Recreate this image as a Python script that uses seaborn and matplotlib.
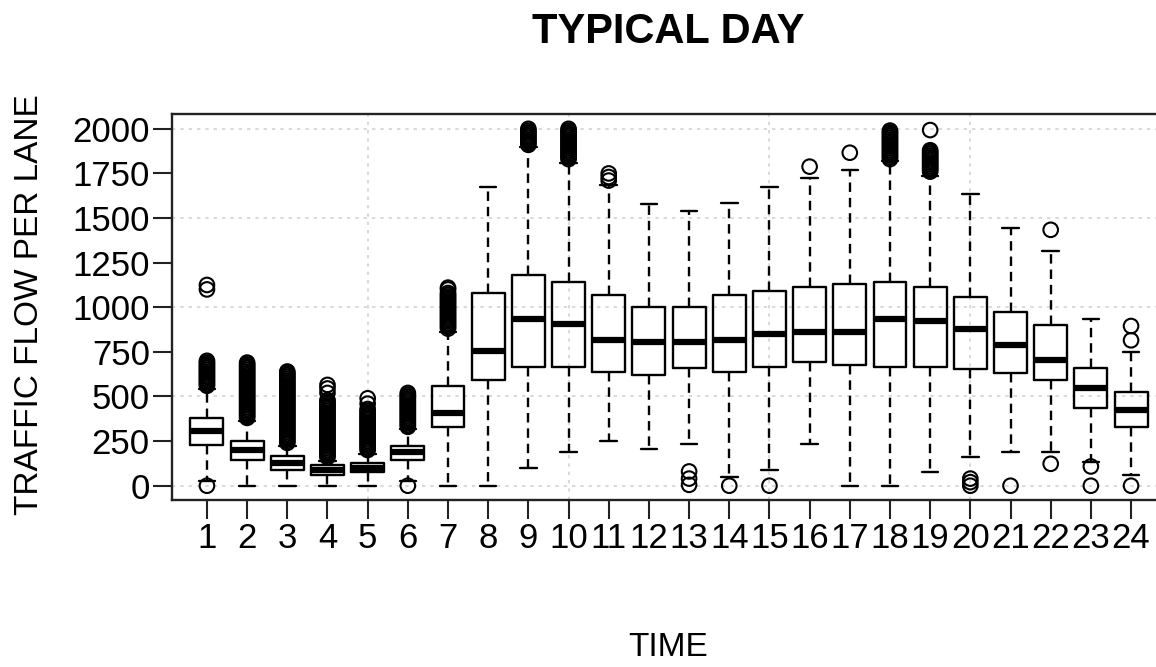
import numpy as np
import pandas as pd
import seaborn as sns
import matplotlib.pyplot as plt

# hourly traffic flow summary
hours = list(range(1, 25))
whisk_lo = [25, 0, 0, 0, 0, 25, 0, 0, 100, 187, 248, 207, 233, 47, 90, 233, 0, 0, 77, 159, 187, 187, 135, 62]
q1 = [229, 146, 86, 62, 75, 146, 330, 593, 668, 668, 640, 618, 657, 640, 668, 691, 678, 668, 668, 653, 631, 594, 435, 327]
median = [304, 200, 128, 88, 100, 190, 410, 755, 935, 907, 818, 803, 803, 818, 849, 860, 860, 935, 924, 877, 790, 706, 547, 426]
q3 = [379, 248, 164, 118, 128, 220, 560, 1080, 1182, 1142, 1070, 1004, 1004, 1070, 1092, 1116, 1129, 1140, 1116, 1057, 973, 898, 659, 523]
whisk_hi = [540, 360, 220, 140, 180, 320, 860, 1675, 1900, 1810, 1686, 1577, 1540, 1587, 1673, 1723, 1770, 1820, 1735, 1635, 1443, 1318, 933, 752]

# outliers per hour (dense runs of points look like solid bars)
outliers = [
    [0, 560, 570, 580, 590, 600, 610, 620, 630, 640, 650, 660, 670, 680, 690, 700, 1100, 1125],
    [380, 390, 400, 410, 420, 430, 440, 450, 460, 470, 480, 490, 500, 510, 520, 530, 540,
     550, 560, 570, 580, 590, 600, 610, 620, 630, 640, 650, 660, 670, 680, 690],
    [240, 250, 260, 270, 280, 290, 300, 310, 320, 330, 340, 350, 360, 370, 380, 390, 400,
     410, 420, 430, 440, 450, 460, 470, 480, 490, 500, 510, 520, 530, 540, 550, 560, 570,
     580, 590, 600, 610, 620, 630, 640],
    [160, 170, 180, 190, 200, 210, 220, 230, 240, 250, 260, 270, 280, 290, 300, 310, 320,
     330, 340, 350, 360, 370, 380, 390, 400, 410, 420, 430, 440, 450, 460, 470, 480, 520, 545, 565],
    [200, 210, 220, 230, 240, 250, 260, 270, 280, 290, 300, 310, 320, 330, 340, 350, 360,
     370, 380, 390, 400, 410, 420, 430, 460, 490],
    [0, 330, 340, 350, 360, 370, 380, 390, 400, 410, 420, 430, 440, 450, 460, 470, 480, 490, 500, 510, 520],
    [880, 890, 900, 910, 920, 930, 940, 950, 960, 970, 980, 990, 1000, 1010, 1020, 1030,
     1040, 1050, 1060, 1070, 1080, 1100, 1110],
    [],
    [1910, 1920, 1930, 1940, 1950, 1960, 1970, 1980, 1990, 2000],
    [1830, 1840, 1850, 1860, 1870, 1880, 1890, 1900, 1910, 1920, 1930, 1940, 1950, 1960,
     1970, 1980, 1990, 2000],
    [1710, 1730, 1750],
    [],
    [80, 40, 5],
    [0],
    [0],
    [1788],
    [1866],
    [1830, 1840, 1850, 1860, 1870, 1880, 1890, 1900, 1910, 1920, 1930, 1940, 1950, 1960,
     1970, 1980, 1990],
    [1760, 1770, 1780, 1790, 1800, 1810, 1820, 1830, 1840, 1850, 1860, 1870, 1880, 1993],
    [40, 20, 0],
    [0],
    [1434, 123],
    [108, 0],
    [815, 895, 0],
]

yticks = [0, 250, 500, 750, 1000, 1250, 1500, 1750, 2000]

# five-number table per hour, seaborn draws min/max whiskers from it
rows = []
for i, h in enumerate(hours):
    for v in [whisk_lo[i], q1[i], median[i], q3[i], whisk_hi[i]]:
        rows.append({"hour": h, "flow": v})
df = pd.DataFrame(rows)

out_h = [h for h, vals in zip(hours, outliers) for v in vals]
out_v = [v for vals in outliers for v in vals]

sns.set_style("ticks")
plt.rcParams["font.family"] = ["Liberation Sans", "DejaVu Sans"]
plt.rcParams["text.color"] = "black"
plt.rcParams["xtick.color"] = "black"
plt.rcParams["ytick.color"] = "black"

fig = plt.figure(figsize=(11.56, 6.67), dpi=100)
# right edge of the plot box runs off the picture, as in the original
ax = fig.add_axes([172 / 1156, 1 - 500 / 667, 994 / 1156, 386 / 667])

# grid behind
for g in [0, 500, 1000, 1500, 2000]:
    ax.axhline(g, color="#d3d3d3", linestyle=(0, (2, 3)), linewidth=1.2, zorder=0)
for g in [5, 10, 15, 20]:
    ax.axvline(g, color="#d3d3d3", linestyle=(0, (2, 3)), linewidth=1.2, zorder=0)

sns.boxplot(data=df, x="hour", y="flow", native_scale=True, whis=(0, 100),
            width=0.82, fill=False, color="black", linecolor="black",
            linewidth=1.7, showfliers=False, ax=ax,
            medianprops=dict(linewidth=4.5, color="black"),
            whiskerprops=dict(linestyle=(0, (4, 2.5)), linewidth=1.7, color="black"),
            capprops=dict(linewidth=1.7, color="black"))

sns.scatterplot(x=out_h, y=out_v, marker="o", s=110, facecolor="none",
                edgecolor="black", linewidth=1.5, ax=ax, zorder=5)

ax.set_xlim(0.13, 24.87)
ax.set_ylim(-80, 2083)
ax.set_xticks(hours)
ax.set_xticklabels([str(h) for h in hours])
ax.set_yticks(yticks)
ax.set_yticklabels([str(t) for t in yticks])
ax.tick_params(axis="both", labelsize=25, length=14, width=1.5, pad=2,
               color="#222222", labelcolor="black")
ax.set_xlabel("")
ax.set_ylabel("")
for s in ax.spines.values():
    s.set_visible(True)
    s.set_linewidth(1.7)
    s.set_color("#222222")

fig.text(668 / 1156, 1 - 32 / 667, "TYPICAL DAY", fontsize=30, fontweight="bold",
         ha="center", va="center", color="black")
fig.text(30 / 1156, 1 - 305 / 667, "TRAFFIC FLOW PER LANE", fontsize=24,
         rotation=90, ha="center", va="center", color="black")
fig.text(668 / 1156, 1 - 648 / 667, "TIME", fontsize=24, ha="center", va="center",
         color="black")

fig.savefig("out.png", dpi=100)
